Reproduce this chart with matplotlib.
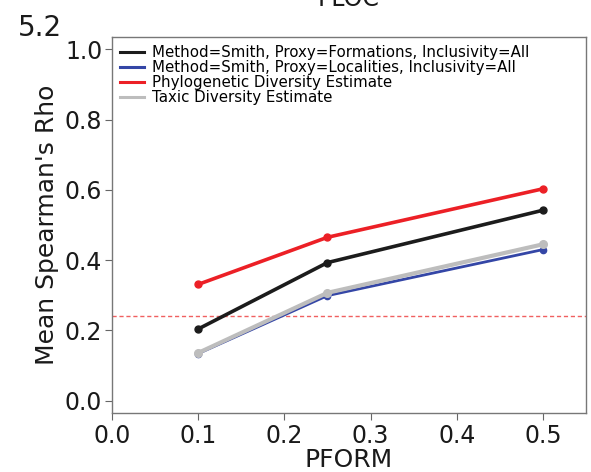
import numpy as np
import matplotlib
matplotlib.use("Agg")
import matplotlib.pyplot as plt

# -----------------------------
# DATA
# -----------------------------
pform = [0.1, 0.25, 0.5]
smith_formations = [0.204, 0.393, 0.542]
smith_localities = [0.134, 0.299, 0.430]
phylo_estimate = [0.331, 0.465, 0.603]
taxic_estimate = [0.136, 0.307, 0.445]
baseline = 0.241

labels = [
    "Method=Smith, Proxy=Formations, Inclusivity=All",
    "Method=Smith, Proxy=Localities, Inclusivity=All",
    "Phylogenetic Diversity Estimate",
    "Taxic Diversity Estimate",
]
xticks = [0.0, 0.1, 0.2, 0.3, 0.4, 0.5]
yticks = [0.0, 0.2, 0.4, 0.6, 0.8, 1.0]

# -----------------------------
# PLOT
# -----------------------------
fig = plt.figure(figsize=(5.91, 4.72), dpi=100)
ax = fig.add_axes([0.1895, 0.125, 0.802, 0.7966])

ax.plot(pform, smith_formations, color="#1c1c1c", linewidth=2.6,
        marker="o", markersize=5, label=labels[0], zorder=3)
ax.plot(pform, smith_localities, color="#3446a6", linewidth=2.0,
        marker="o", markersize=4.5, label=labels[1], zorder=3)
ax.plot(pform, phylo_estimate, color="#ec2026", linewidth=2.6,
        marker="o", markersize=5, label=labels[2], zorder=3)
ax.plot(pform, taxic_estimate, color="#bdbdbd", linewidth=3.0,
        marker="o", markersize=5.5, label=labels[3], zorder=4)
ax.axhline(baseline, color="#f06060", linewidth=1.0, linestyle=(0, (3, 2)),
           zorder=2)

ax.set_xlim(0, 0.55)
ax.set_ylim(-0.035, 1.035)
ax.set_xticks(xticks)
ax.set_yticks(yticks)
ax.set_xticklabels([f"{t:.1f}" for t in xticks])
ax.set_yticklabels([f"{t:.1f}" for t in yticks])
ax.tick_params(labelsize=17, length=5, width=0.8, color="#666666",
               labelcolor="#1a1a1a", pad=2)
ax.tick_params(axis="x", pad=3)
for s in ax.spines.values():
    s.set_color("#777777")
    s.set_linewidth(1.0)

ax.set_xlabel("PFORM", fontsize=18, color="#1a1a1a", labelpad=0)
ax.set_ylabel("Mean Spearman's Rho", fontsize=18, color="#1a1a1a", labelpad=4)

leg = ax.legend(loc="upper left", bbox_to_anchor=(0, 1), borderaxespad=0.25,
                frameon=False, fontsize=10.8, handlelength=1.6,
                handletextpad=0.5, labelspacing=0.0, borderpad=0.3)
for line in leg.get_lines():
    line.set_marker("")
    line.set_linewidth(2.2)

fig.text(349 / 591, 0.987, "PLOC", fontsize=17, ha="center", va="baseline",
         color="#1a1a1a")
fig.text(0.03, 0.924, "5.2", fontsize=20, ha="left", va="baseline",
         color="#1a1a1a")

fig.savefig("out.png", dpi=100)
